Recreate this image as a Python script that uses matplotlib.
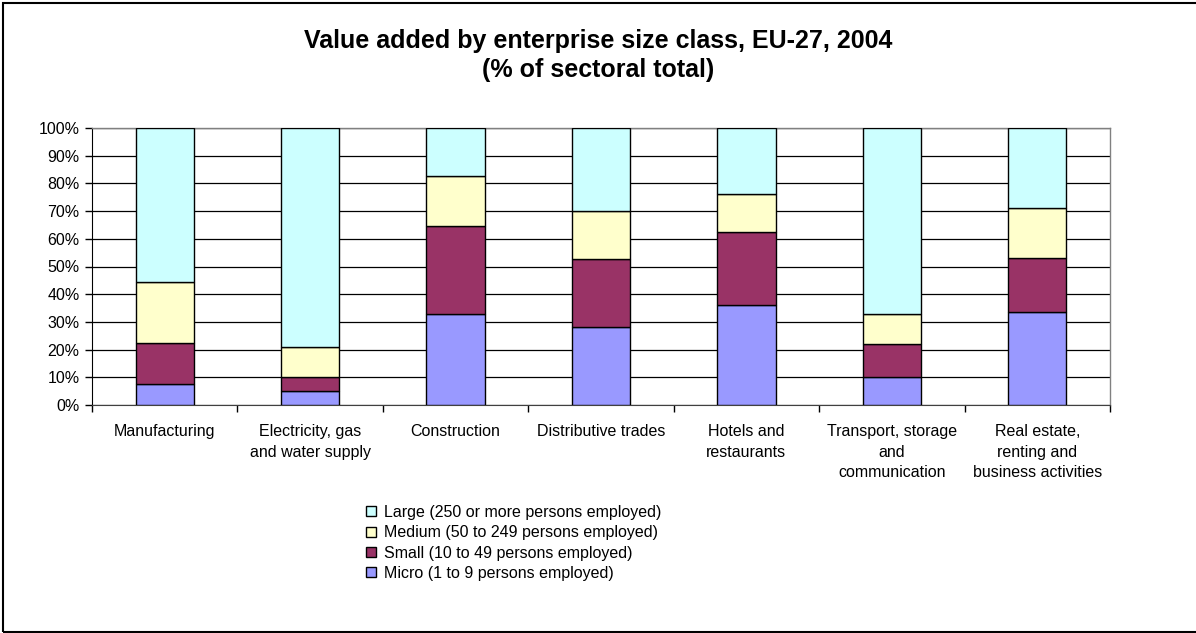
import matplotlib
matplotlib.use("Agg")
import matplotlib.pyplot as plt
import numpy as np
from matplotlib.patches import Rectangle, Patch

plt.rcParams['font.family'] = ['Liberation Sans', 'DejaVu Sans']

categories = [
    "Manufacturing",
    "Electricity, gas\nand water supply",
    "Construction",
    "Distributive trades",
    "Hotels and\nrestaurants",
    "Transport, storage\nand\ncommunication",
    "Real estate,\nrenting and\nbusiness activities",
]
micro = [7.5, 5.1, 32.7, 28.2, 36.1, 10.2, 33.7]
small = [15.0, 5.1, 31.9, 24.4, 26.2, 11.8, 19.4]
medium = [22.0, 10.9, 18.0, 17.3, 13.8, 10.9, 18.1]
large = [55.5, 78.9, 17.4, 30.1, 23.9, 67.1, 28.8]

series_names = [
    "Micro (1 to 9 persons employed)",
    "Small (10 to 49 persons employed)",
    "Medium (50 to 249 persons employed)",
    "Large (250 or more persons employed)",
]
series_colors = ["#9999FF", "#993366", "#FFFFCC", "#CCFFFF"]

W, H = 1196, 633
fig = plt.figure(figsize=(W / 100, H / 100), dpi=100)

# outer frame
fig.patches.append(Rectangle((3 / W, 1 - 632 / H), 1.1, (632 - 3) / H,
                             transform=fig.transFigure, fill=False,
                             edgecolor="black", linewidth=1.5))

ax = fig.add_axes([92 / W, 1 - 405 / H, (1110 - 92) / W, (405 - 128) / H])

x = np.arange(len(categories))
bottom = np.zeros(len(categories))
for vals, name, col in zip([micro, small, medium, large], series_names, series_colors):
    vals = np.array(vals, dtype=float)
    ax.bar(x, vals, bottom=bottom, width=0.4, color=col, edgecolor="black",
           linewidth=1.0, label=name, zorder=3)
    bottom += vals

ax.set_xlim(-0.5, len(categories) - 0.5)
ax.set_ylim(0, 100)
ax.set_yticks(np.arange(0, 101, 10))
ax.set_yticklabels([f"{v}%" for v in range(0, 101, 10)], fontsize=11.5)
ax.yaxis.grid(True, color="black", linewidth=0.9, zorder=0)
ax.set_axisbelow(True)

ax.set_xticks(x)
ax.set_xticklabels(categories, fontsize=11.5, linespacing=1.45)
ax.tick_params(axis="x", length=0, pad=14)
ax.set_xticks(np.arange(-0.5, len(categories), 1), minor=True)
ax.tick_params(axis="x", which="minor", length=5, width=1, color="black")
ax.tick_params(axis="y", length=5, width=1, pad=4)

for side in ["top", "right"]:
    ax.spines[side].set_color("#808080")
    ax.spines[side].set_linewidth(1.0)
ax.spines["left"].set_color("black")
ax.spines["bottom"].set_color("#404040")

fig.text(598 / W, 1 - 41 / H, "Value added by enterprise size class, EU-27, 2004",
         ha="center", va="center", fontsize=18, fontweight="bold")
fig.text(598 / W, 1 - 70 / H, "(% of sectoral total)",
         ha="center", va="center", fontsize=18, fontweight="bold")

handles = [Patch(facecolor=c, edgecolor="black", linewidth=1.0, label=n)
           for c, n in zip(series_colors, series_names)][::-1]
fig.legend(handles=handles, loc="upper left", bbox_to_anchor=(366 / W, 1 - 505 / H),
           frameon=False, fontsize=11.5, handlelength=0.6, handleheight=0.6,
           handletextpad=0.55, labelspacing=0.33, borderpad=0, borderaxespad=0)

fig.savefig("out.png", dpi=100)
